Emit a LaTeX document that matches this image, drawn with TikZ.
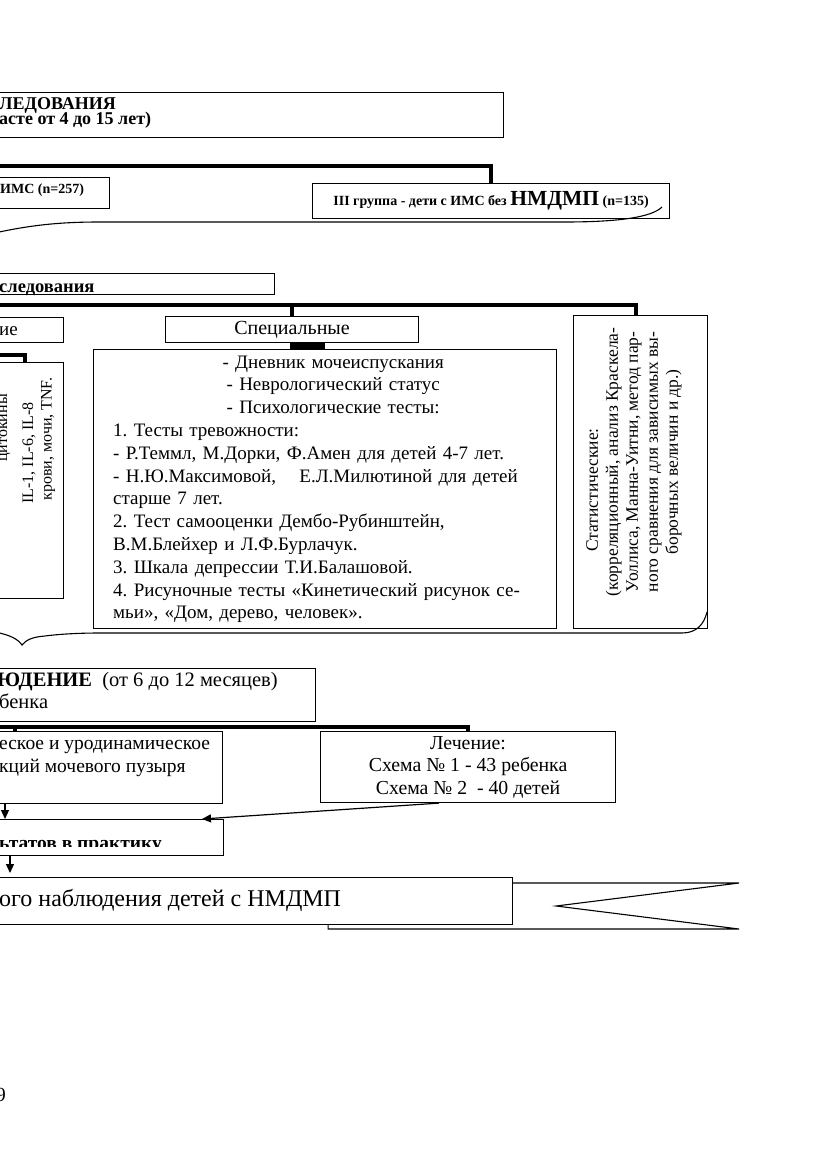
\documentclass[tikz,border=0pt]{standalone}
\usepackage{fontspec}
\setmainfont{Liberation Serif}
\usetikzlibrary{arrows.meta, positioning, calc}
\frenchspacing

\tikzset{
  box/.style={draw, line width=1.1pt, inner sep=0pt, anchor=north west},
  bus/.style={line width=4pt},
  arr/.style={line width=1.2pt, -{Triangle[length=9pt,width=8pt]}},
  lbl/.style={inner sep=0pt, anchor=base west},
  body/.style={font=\fontsize{19}{22.8}\selectfont},
  bigbody/.style={font=\fontsize{20}{22.8}\selectfont},
}

\begin{document}
\begin{tikzpicture}[x=1pt, y=-1pt]
\useasboundingbox (0,0) rectangle (831,1174);
\fill[white] (0,0) rectangle (831,1174);

% stage of study
\node[box, minimum width=543pt, minimum height=45pt] (stage) at (-40,92) {};
\node[lbl, font=\bfseries\fontsize{18}{19}\selectfont] (stagetop) at (-1,109.5) {ЛЕДОВАНИЯ};
\node[lbl, font=\bfseries\fontsize{18}{19}\selectfont] (stagebot) at (-1,124.5) {асте от 4 до 15 лет)};

% groups
\coordinate (busA) at (-40,166);
\node[box, minimum width=149pt, minimum height=31pt] (grp1) at (-40,177) {};
\node[lbl, font=\bfseries\fontsize{14}{16}\selectfont] (grp1text) at (0,194) {ИМС (n=257)};
\node[box, minimum width=357pt, minimum height=35pt, font=\bfseries\fontsize{14}{15}\selectfont]
  (grp3) at (312,183) {III группа - дети с ИМС без {\fontsize{21.5}{22}\selectfont НМДМП} (n=135)};
\draw[bus] (busA) -| (grp3.north);
\draw[line width=1.1pt] (-10,234) .. controls (30,225) and (60,222) .. (100,222)
  -- (565,222) .. controls (620,222) and (652,217) .. (662,207);

% methods
\node[box, minimum width=314pt, minimum height=21pt] (meth) at (-40,273) {};
\node[lbl, font=\bfseries\fontsize{18.5}{19}\selectfont] (methtext) at (-1,292) {следования};
\coordinate (busC) at (-40,305);
\node[box, minimum width=103pt, minimum height=25pt] (gen) at (-40,317) {};
\node[lbl, body] (gentext) at (-1,335) {ие};
\node[box, minimum width=253pt, minimum height=26pt, bigbody] (spec) at (165,316) {Специальные};
\node[box, minimum width=134pt, minimum height=313pt] (stat) at (573,315) {};
\draw[bus] (busC) -| ([xshift=-5pt]stat.north);
\draw[bus] (spec.north |- busC) -- (spec.north);

% laboratory
\coordinate (busD) at (-40,355);
\node[box, minimum width=103pt, minimum height=236pt] (lab) at (-40,362) {};
\draw[bus] (busD) -| ($(lab.north west)+(65,0)$);
\node[rotate=90, inner sep=0pt, font=\fontsize{16}{18}\selectfont] (lab1) at (5,428) {цитокины};
\node[rotate=90, inner sep=0pt, font=\fontsize{16}{18}\selectfont] (lab2) at (29,453) {IL-1, IL-6, IL-8};
\node[rotate=90, inner sep=0pt, font=\fontsize{16}{18}\selectfont] (lab3) at (48,439) {крови, мочи, TNF.};

% special methods
\node[box, minimum width=463pt, minimum height=279pt] (diary) at (93,349) {};
\fill ($(spec.south)+(-2,0)$) rectangle ($(diary.north -| spec.south)+(33,0)$);
\node[anchor=north west, inner sep=0pt, text width=440pt, body] (diarytext) at (113,355.5) {%
{\centering - Дневник мочеиспускания\\
- Неврологический статус\\
- Психологические тесты:\par}
{\raggedright 1. Тесты тревожности:\\
- Р.Теммл, М.Дорки, Ф.Амен для детей 4-7 лет.\\
- Н.Ю.Максимовой,\hspace{17pt} Е.Л.Милютиной для детей\\
старше 7 лет.\\
2. Тест самооценки Дембо-Рубинштейн,\\
В.М.Блейхер и Л.Ф.Бурлачук.\\
3. Шкала депрессии Т.И.Балашовой.\\
4. Рисуночные тесты «Кинетический рисунок се-\\
мьи», «Дом, дерево, человек».\par}};

% statistics
\node[rotate=90, inner sep=0pt, align=center, font=\fontsize{17.5}{20}\selectfont] (stattext) at (634,462)
  {Статистические:\rule{56pt}{0pt}\\
   (корреляционный, анализ Краскела-\\
   Уоллиса, Манна-Уитни, метод пар-\\
   ного сравнения для зависимых вы-\\
   борочных величин и др.)};
\draw[line width=1.1pt] (-5,632) .. controls (10,635) and (18,639) .. (22,645)
  .. controls (26,640) and (32,637) .. (45,636) .. controls (60,634) and (80,633) .. (100,633)
  -- (682,633) .. controls (697,633) and (704,624) .. (707,612);

% follow-up
\node[box, minimum width=355pt, minimum height=53pt] (obs) at (-40,668) {};
\node[lbl, font=\fontsize{20.5}{23}\selectfont] (obstop) at (-3,686.7) {\textbf{ЮДЕНИЕ}\ \ (от 6 до 12 месяцев)};
\node[lbl, font=\fontsize{20.5}{23}\selectfont] (obsbot) at (-1,708) {бенка};
\coordinate (busB) at (-40,727);
\coordinate (tickB) at (15,727);
\node[box, minimum width=262pt, minimum height=72pt] (lbox) at (-40,731) {};
\node[lbl, font=\fontsize{19.5}{23}\selectfont] (lboxtop) at (-1,749) {еское и уродинамическое};
\node[lbl, font=\fontsize{19.5}{23}\selectfont] (lboxbot) at (-1,772) {кций мочевого пузыря};
\node[box, minimum width=295pt, minimum height=71pt, align=center, font=\fontsize{19.8}{22.5}\selectfont] (treat) at (320,731)
  {Лечение:\\Схема № 1 - 43 ребенка\\Схема № 2 \ - 40 детей};
\draw[bus] (busB) -| (treat.north);
\draw[bus] (tickB) -- (tickB |- lbox.north);

% implementation
\node[box, minimum width=263pt, minimum height=36pt] (impl) at (-40,819) {};
\begin{scope}
  \clip (-40,819) rectangle (223,846);
  \node[lbl, font=\bfseries\fontsize{19.5}{21}\selectfont] (impltext) at (-1,849) {ьтатов в практику};
\end{scope}
\draw[arr] ($(lbox.south west)+(45,0)$) -- ($(impl.north west)+(45,0)$);
\draw[arr] ($(treat.south)+(-29,0)$) -- ($(impl.north west)+(242,0)$);

% ribbon
\node[box, minimum width=552pt, minimum height=47pt] (ribbon) at (-40,877) {};
\node[lbl, font=\fontsize{24}{28}\selectfont] (ribbontext) at (-1,906.5) {ого наблюдения детей с НМДМП};
\draw[line width=1.1pt] ($(ribbon.north east)+(0,6)$) -- ++(226,0) -- ++(-183,23) -- ++(183,23)
  -- ++(-411,0) -- ++(0,-5);
\draw[arr, shorten >=4pt] ($(impl.south west)+(50,0)$) -- ($(ribbon.north west)+(50,0)$);

\node[anchor=base east, inner sep=0pt, font=\fontsize{20}{24}\selectfont] (pageno) at (6,1101) {9};
\end{tikzpicture}
\end{document}
